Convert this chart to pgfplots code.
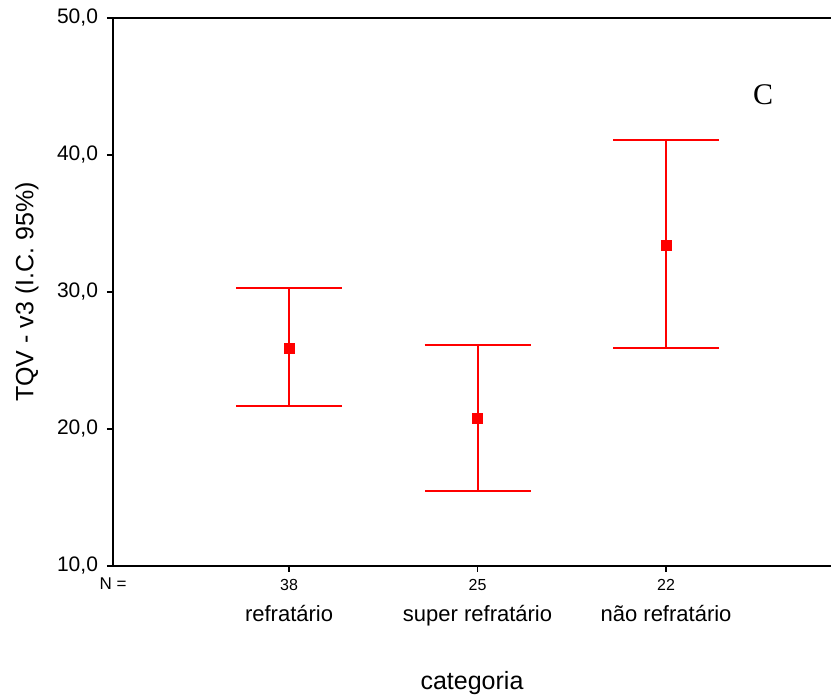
\documentclass[border=0pt]{standalone}
\usepackage{pgfplots}
\pgfplotsset{compat=1.18}
\usepackage{pgfplotstable}
\usepackage{fontspec}
\setmainfont{Liberation Sans}
\newfontfamily\serifC{Liberation Serif}

% mean, upper and lower 95% CI per category
\pgfplotstableread{
x  y     ep    em
1  25.9  4.40  4.25
2  20.8  5.35  5.30
3  33.4  7.70  7.50
}\tqvdata

\begin{document}
\begin{tikzpicture}
\begin{axis}[
    scale only axis,
    width=359pt, height=274pt,
    xmin=0.066, xmax=3.875,
    ymin=10, ymax=50,
    axis lines*=left,
    axis line style={line width=1.2pt},
    ytick={10,20,30,40,50},
    yticklabels={{10,0},{20,0},{30,0},{40,0},{50,0}},
    xtick={1,2,3},
    xticklabels={
        {{\fontsize{8}{9}\selectfont 38}\\[2.5pt]refratário},
        {{\fontsize{8}{9}\selectfont 25}\\[2.5pt]super refratário},
        {{\fontsize{8}{9}\selectfont 22}\\[2.5pt]não refratário}},
    tick align=outside,
    major tick length=3pt,
    tick style={black, line width=0.8pt},
    yticklabel style={font=\fontsize{10.5}{12}\selectfont, xshift=-1pt},
    xticklabel style={align=center, font=\fontsize{11}{13}\selectfont},
    ylabel={TQV - v3 (I.C. 95\%)},
    ylabel style={at={(axis description cs:-0.12,0.5)}, anchor=center,
        rotate=0, font=\fontsize{12.5}{14}\selectfont},
    xlabel={categoria},
    xlabel style={at={(axis description cs:0.5,-0.2135)}, anchor=center,
        font=\fontsize{12.5}{14}\selectfont},
    clip=false,
]
\draw[line width=1.2pt] (rel axis cs:0,1) -- (rel axis cs:1,1);
\addplot[red, only marks, mark=square*, mark size=2.6pt,
    mark options={line width=0.3pt},
    error bars/.cd, y dir=both, y explicit,
    error bar style={red, line width=1pt},
    error mark=|, error mark options={red, line width=1pt, mark size=26.5pt}]
    table[x=x, y=y, y error plus=ep, y error minus=em] {\tqvdata};
\node[font=\fontsize{8.5}{9}\selectfont, anchor=center]
    at (axis description cs:0.0,-0.033) {N =};
\node[font=\serifC\fontsize{15}{16}\selectfont, anchor=center]
    at (axis cs:3.515,44.4) {C};
\end{axis}
\pgfresetboundingbox
\path[use as bounding box] (-56.5pt,-64.5pt) rectangle (359pt,283pt);
\end{tikzpicture}
\end{document}
